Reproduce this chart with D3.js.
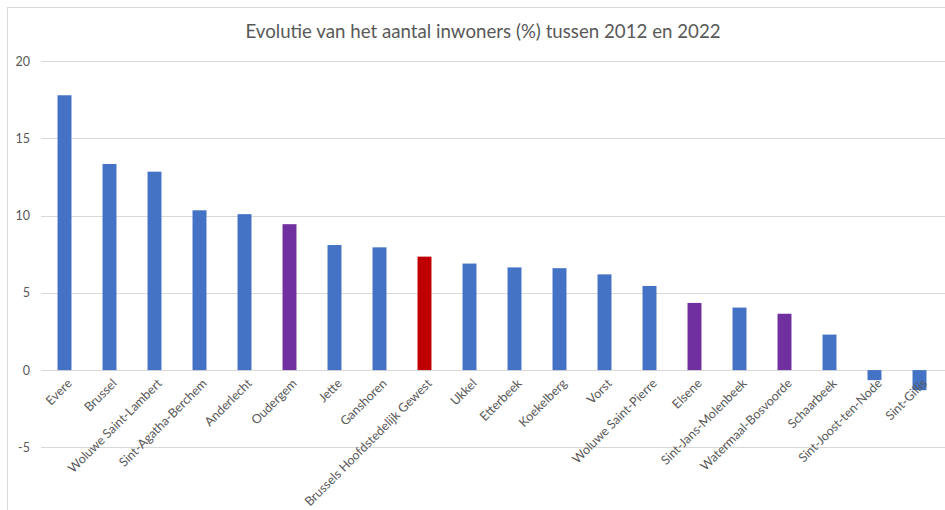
<!DOCTYPE html>
<html>
<head>
<meta charset="utf-8">
<script src="https://cdn.jsdelivr.net/npm/d3@7"></script>
<style>
  html, body { margin: 0; padding: 0; background: #fff; }
  svg { display: block; font-family: Lato, "Open Sans", sans-serif; }
</style>
</head>
<body>
<svg id="chart" width="945" height="510"></svg>
<script>
// Bevolkingsevolutie per gemeente, 2012-2022 (%)
const communes = [
  "Evere", "Brussel", "Woluwe Saint-Lambert", "Sint-Agatha-Berchem", "Anderlecht",
  "Oudergem", "Jette", "Ganshoren", "Brussels Hoofdstedelijk Gewest", "Ukkel",
  "Etterbeek", "Koekelberg", "Vorst", "Woluwe Saint-Pierre", "Elsene",
  "Sint-Jans-Molenbeek", "Watermaal-Bosvoorde", "Schaarbeek", "Sint-Joost-ten-Node", "Sint-Gillis"
];
const growth = [
  17.8, 13.35, 12.85, 10.35, 10.1,
  9.45, 8.1, 7.95, 7.35, 6.9,
  6.65, 6.6, 6.2, 5.45, 4.35,
  4.05, 3.65, 2.3, -0.65, -1.3
];
// kind of each bar: gemeente, gemarkeerde gemeente, of het hele gewest
const kinds = [
  "gemeente", "gemeente", "gemeente", "gemeente", "gemeente",
  "gemarkeerd", "gemeente", "gemeente", "gewest", "gemeente",
  "gemeente", "gemeente", "gemeente", "gemeente", "gemarkeerd",
  "gemeente", "gemarkeerd", "gemeente", "gemeente", "gemeente"
];
const yTicks = [-5, 0, 5, 10, 15, 20];
const chartTitle = "Evolutie van het aantal inwoners (%) tussen 2012 en 2022";

const colorOf = { gemeente: "#4472C4", gemarkeerd: "#7030A0", gewest: "#C00000" };
const textColor = "#595959";
const gridColor = "#D9D9D9";

const svg = d3.select("#chart");

// chart frame
svg.append("rect")
  .attr("x", 7.5).attr("y", 7.5)
  .attr("width", 960).attr("height", 520)
  .attr("fill", "none").attr("stroke", gridColor).attr("stroke-width", 1);

const x = d3.scaleBand()
  .domain(communes)
  .range([42, 942])
  .paddingInner(0.69)
  .paddingOuter(0.345);

const y = d3.scaleLinear()
  .domain([-5, 20])
  .range([447.3, 61.3]);

// horizontal gridlines
svg.append("g")
  .selectAll("line")
  .data(yTicks)
  .join("line")
  .attr("x1", 41).attr("x2", 945)
  .attr("y1", d => Math.round(y(d)) + 0.5)
  .attr("y2", d => Math.round(y(d)) + 0.5)
  .attr("stroke", gridColor).attr("stroke-width", 1);

// value axis labels (plain hyphen for negatives)
const yAxis = d3.axisLeft(y).tickValues(yTicks).tickFormat(d => String(d)).tickSize(0).tickPadding(0);
svg.append("g")
  .attr("transform", "translate(30,0)")
  .call(yAxis)
  .call(g => g.select(".domain").remove())
  .call(g => g.selectAll("text")
    .attr("fill", textColor)
    .attr("font-size", 12.5)
    .attr("font-family", "Lato, 'Open Sans', sans-serif"));

// bars
svg.append("g")
  .selectAll("rect")
  .data(communes.map((c, i) => ({ c, v: growth[i], k: kinds[i] })))
  .join("rect")
  .attr("x", d => x(d.c))
  .attr("width", x.bandwidth())
  .attr("y", d => y(Math.max(0, d.v)))
  .attr("height", d => Math.abs(y(d.v) - y(0)))
  .attr("fill", d => colorOf[d.k]);

// category labels, rotated
const xAxis = d3.axisBottom(x).tickSize(0).tickPadding(0);
svg.append("g")
  .attr("transform", `translate(0,${y(0)})`)
  .call(xAxis)
  .call(g => g.select(".domain").remove())
  .call(g => g.selectAll("text")
    .attr("fill", textColor)
    .attr("font-size", 12.5)
    .attr("font-family", "Lato, 'Open Sans', sans-serif")
    .attr("text-anchor", "end")
    .attr("dy", "0.35em")
    .attr("transform", "translate(5,11) rotate(-45)"));

// title
svg.append("text")
  .attr("x", 483).attr("y", 38)
  .attr("text-anchor", "middle")
  .attr("fill", textColor)
  .attr("font-size", 18.7)
  .text(chartTitle);
</script>
</body>
</html>
